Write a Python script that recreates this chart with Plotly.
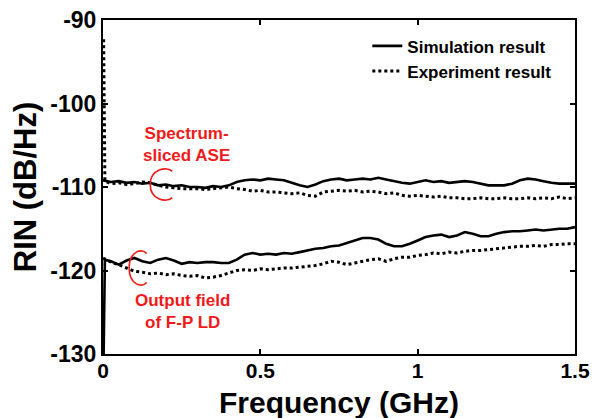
import plotly.graph_objects as go

freq = [0.0, 0.025, 0.05, 0.075, 0.1, 0.125, 0.15, 0.175, 0.2, 0.225, 0.25, 0.275, 0.3,
        0.325, 0.35, 0.375, 0.4, 0.425, 0.45, 0.475, 0.5, 0.525, 0.55, 0.575, 0.6, 0.625,
        0.65, 0.675, 0.7, 0.725, 0.75, 0.775, 0.8, 0.825, 0.85, 0.875, 0.9, 0.925, 0.95,
        0.975, 1.0, 1.025, 1.05, 1.075, 1.1, 1.125, 1.15, 1.175, 1.2, 1.225, 1.25, 1.275,
        1.3, 1.325, 1.35, 1.375, 1.4, 1.425, 1.45, 1.475, 1.5]

# Spectrum-sliced ASE
sim_ase = [-109.2, -109.4, -109.3, -109.5, -109.4, -109.6, -109.5, -109.8, -109.7, -109.9,
           -109.8, -110.0, -110.0, -110.1, -109.9, -110.0, -109.8, -109.4, -109.2, -109.1,
           -109.2, -109.0, -109.1, -109.2, -109.5, -109.8, -110.0, -109.7, -109.3, -109.1,
           -109.0, -109.2, -109.1, -109.0, -109.1, -108.9, -109.1, -109.3, -109.5, -109.6,
           -109.4, -109.2, -109.4, -109.3, -109.5, -109.4, -109.3, -109.4, -109.6, -109.8,
           -109.8, -109.8, -109.6, -109.2, -109.0, -109.1, -109.3, -109.5, -109.6, -109.6,
           -109.6]
exp_ase = [-109.3, -109.6, -109.5, -109.7, -109.6, -109.4, -109.5, -109.8, -110.0, -110.1,
           -110.2, -110.2, -110.2, -110.3, -110.2, -110.1, -110.0, -110.2, -110.3, -110.5,
           -110.4, -110.6, -110.6, -110.7, -110.8, -110.7, -111.0, -111.1, -110.6, -110.5,
           -110.4, -110.5, -110.4, -110.6, -110.5, -110.6, -110.8, -110.7, -111.0, -111.1,
           -111.0, -111.1, -111.2, -111.1, -111.3, -111.3, -111.4, -111.4, -111.3, -111.4,
           -111.4, -111.3, -111.4, -111.4, -111.3, -111.4, -111.3, -111.4, -111.2, -111.4,
           -111.3]

# Output field of F-P LD
sim_fp = [-118.7, -118.9, -119.3, -118.8, -118.5, -118.9, -119.1, -118.7, -118.5, -118.8,
          -119.2, -119.0, -119.1, -119.0, -119.0, -119.1, -119.1, -118.7, -118.1, -117.9,
          -118.1, -118.0, -118.1, -117.9, -118.0, -117.8, -117.6, -117.4, -117.3, -117.1,
          -117.0, -116.7, -116.4, -116.1, -116.1, -116.3, -116.8, -117.1, -117.1, -116.8,
          -116.4, -116.0, -115.8, -115.7, -116.0, -115.8, -115.4, -115.6, -115.9, -115.9,
          -115.6, -115.4, -115.3, -115.3, -115.2, -115.1, -115.2, -115.1, -115.0, -115.0,
          -114.8]
exp_fp = [-118.5, -119.0, -119.3, -119.7, -120.1, -120.2, -120.4, -120.3, -120.5, -120.4,
          -120.6, -120.7, -120.6, -120.9, -120.8, -120.6, -120.3, -120.0, -119.9, -120.0,
          -119.8, -119.9, -119.8, -119.7, -119.7, -119.6, -119.5, -119.4, -119.2, -118.9,
          -119.0, -119.3, -119.1, -118.9, -118.7, -118.6, -118.9, -118.6, -118.4, -118.4,
          -118.2, -118.1, -117.9, -118.0, -117.8, -117.9, -117.7, -117.6, -117.6, -117.5,
          -117.4, -117.3, -117.2, -117.1, -117.1, -117.0, -117.1, -116.9, -116.9, -116.8,
          -116.8]

# initial transients at f -> 0
start_freq = [0.002, 0.006]
start_exp_ase = [-92.3, -109.3]
start_sim_fp = [-130.0, -118.7]

x_ticks = [0, 0.5, 1, 1.5]
x_tick_text = ["0", "0.5", "1", "1.5"]
y_ticks = [-130, -120, -110, -100, -90]
y_tick_text = ["-130", "-120", "-110", "-100", "-90"]

FONT = "Liberation Sans"
RED = "#f01a1a"

fig = go.Figure()

sim_line = dict(color="black", width=2.6)
exp_line = dict(color="black", width=3, dash="dot")

fig.add_trace(go.Scatter(x=freq, y=sim_ase, mode="lines", line=sim_line,
                         name="Simulation result", legendgroup="sim"))
fig.add_trace(go.Scatter(x=start_freq + freq[1:], y=start_exp_ase + exp_ase[1:], mode="lines",
                         line=exp_line, name="Experiment result", legendgroup="exp"))
fig.add_trace(go.Scatter(x=start_freq + freq[1:], y=start_sim_fp + sim_fp[1:], mode="lines",
                         line=sim_line, showlegend=False, legendgroup="sim"))
fig.add_trace(go.Scatter(x=freq, y=exp_fp, mode="lines", line=exp_line,
                         showlegend=False, legendgroup="exp"))


def c_arc(cx, cy, rx, ry):
    p = lambda a, b: f"{cx + a * rx},{cy + b * ry}"
    return (f"M {p(0.75, 0.75)} C {p(0.35, 1.05)} {p(-1, 0.9)} {p(-1, 0)} "
            f"C {p(-1, -0.9)} {p(0.35, -1.05)} {p(0.75, -0.75)}")


fig.add_shape(type="path", path=c_arc(0.19, -109.7, 0.04, 2.1), xref="x", yref="y",
              line=dict(color=RED, width=1.6))
fig.add_shape(type="path", path=c_arc(0.115, -119.7, 0.032, 2.3), xref="x", yref="y",
              line=dict(color=RED, width=1.6))

fig.add_annotation(x=0.264, y=-104.85, xref="x", yref="y", text="Spectrum-<br>sliced ASE",
                   showarrow=False, font=dict(family=FONT, size=17, color=RED, weight="bold"))
fig.add_annotation(x=0.253, y=-124.9, xref="x", yref="y", text="Output field<br>of F-P LD",
                   showarrow=False, font=dict(family=FONT, size=17, color=RED, weight="bold"))

# x-axis title placed as an annotation for precise vertical placement
fig.add_annotation(x=0.5, y=-0.145, xref="paper", yref="paper", text="Frequency (GHz)",
                   showarrow=False, xanchor="center", yanchor="middle",
                   font=dict(family=FONT, size=30, color="black", weight="bold"))

axis_common = dict(showline=True, linecolor="black", linewidth=2, mirror="ticks",
                   ticks="inside", ticklen=5, tickwidth=1.5, tickcolor="black",
                   showgrid=False, zeroline=False, ticklabeloverflow="allow")

fig.update_xaxes(range=[0, 1.5], tickvals=x_ticks, ticktext=x_tick_text,
                 ticklabelstandoff=-3,
                 tickfont=dict(family=FONT, size=21, color="black", weight="bold"),
                 **axis_common)
fig.update_yaxes(range=[-130, -90], tickvals=y_ticks, ticktext=y_tick_text,
                 tickfont=dict(family=FONT, size=23, color="black", weight="bold"),
                 title=dict(text="RIN (dB/Hz)", standoff=6,
                            font=dict(family=FONT, size=31, color="black", weight="bold")),
                 **axis_common)

# page body adds an 8px offset, so margins are shifted accordingly
fig.update_layout(
    width=601, height=418,
    margin=dict(l=95, r=34, t=12, b=72, autoexpand=False),
    paper_bgcolor="white", plot_bgcolor="white",
    showlegend=True,
    legend=dict(x=0.56, y=0.975, xanchor="left", yanchor="top",
                bgcolor="rgba(0,0,0,0)", borderwidth=0, tracegroupgap=0,
                font=dict(family=FONT, size=17, color="black", weight="bold")),
)

fig.write_html("out.html")
